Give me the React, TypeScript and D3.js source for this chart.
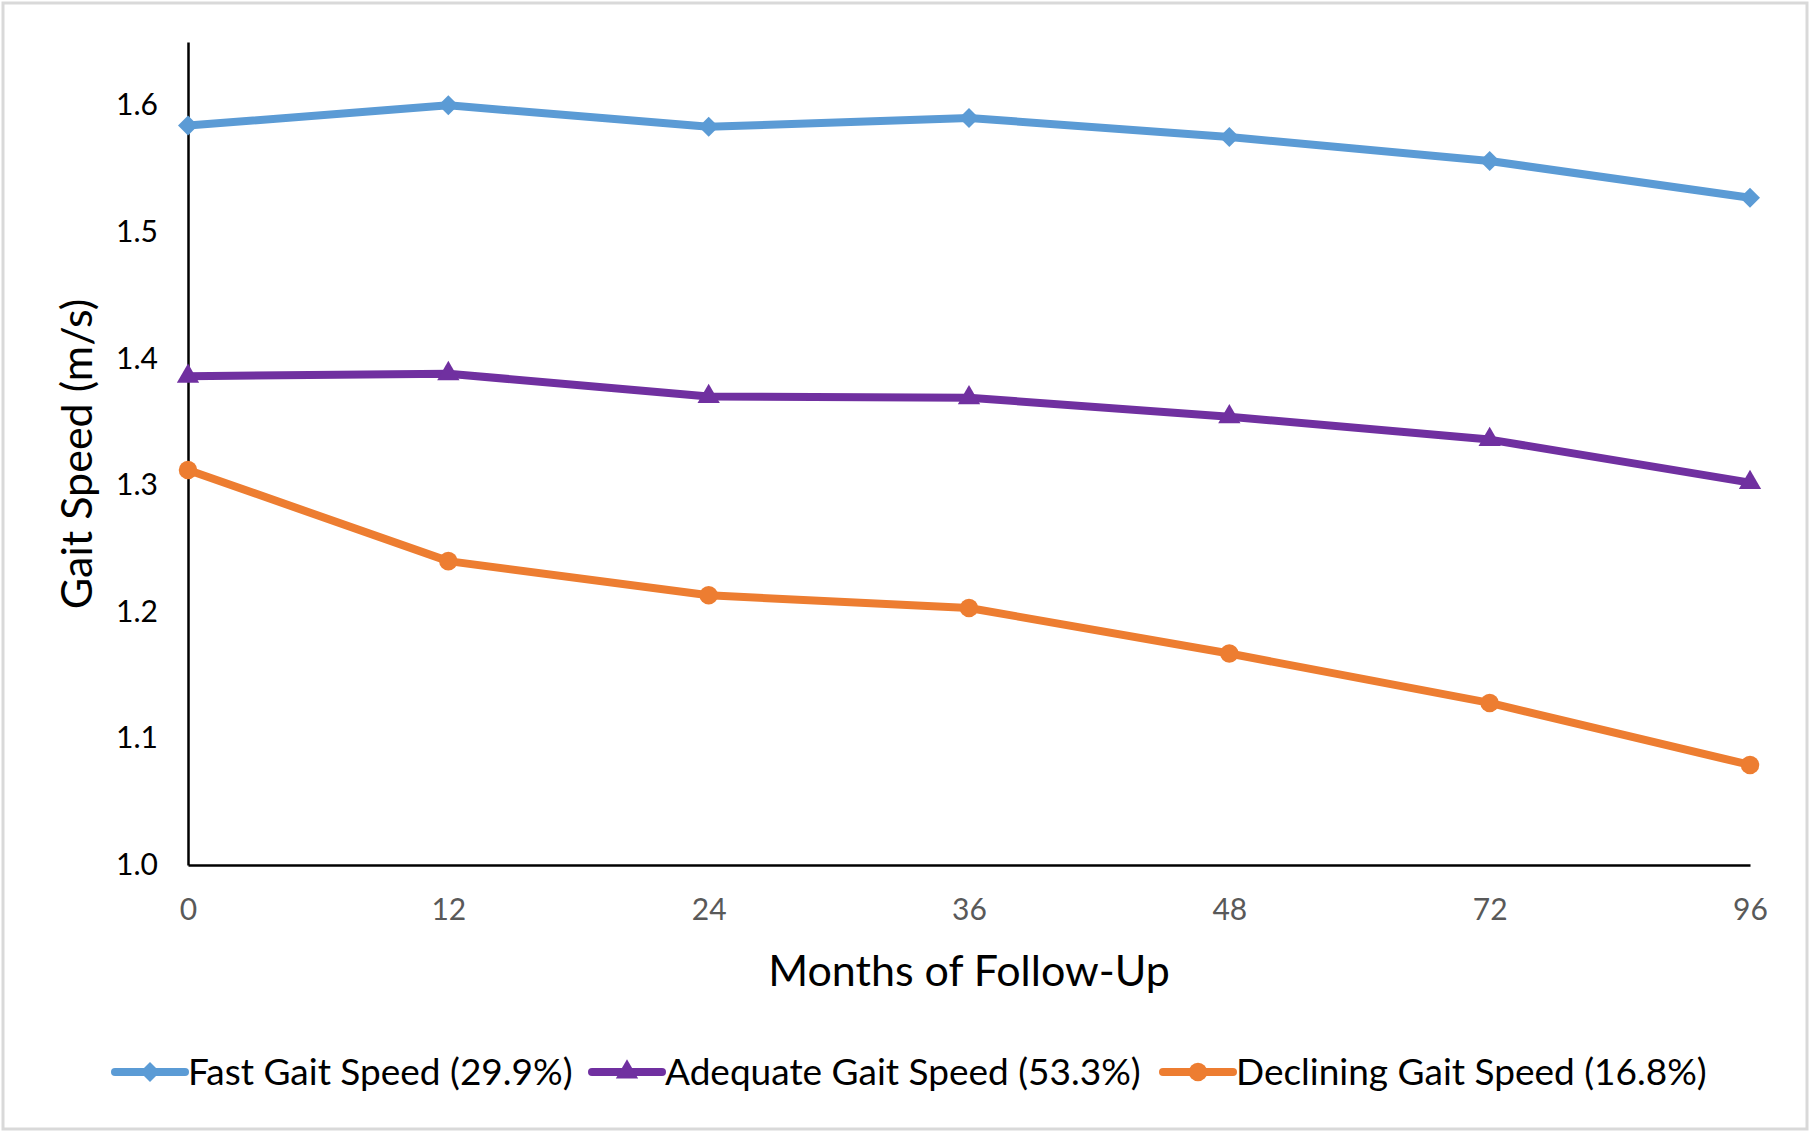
import { useRef, useEffect } from "react";
import {
  select,
  scalePoint,
  scaleLinear,
  axisBottom,
  axisLeft,
  line,
  symbol,
  symbolSquare,
  symbolTriangle,
  symbolCircle,
} from "d3";

const months = ["0", "12", "24", "36", "48", "72", "96"];
const yTicks = [1.0, 1.1, 1.2, 1.3, 1.4, 1.5, 1.6];

const fastValues = [1.584, 1.6, 1.583, 1.59, 1.575, 1.556, 1.527];
const adequateValues = [1.386, 1.388, 1.37, 1.369, 1.354, 1.336, 1.302];
const decliningValues = [1.312, 1.24, 1.213, 1.203, 1.167, 1.128, 1.079];

const seriesNames = [
  "Fast Gait Speed (29.9%)",
  "Adequate Gait Speed (53.3%)",
  "Declining Gait Speed (16.8%)",
];
const seriesColors = ["#5B9BD5", "#7030A0", "#ED7D31"];

const W = 1810;
const H = 1132;
const FONT = "Lato, 'Open Sans', sans-serif";

type Shape = "diamond" | "triangle" | "circle";

function markerPath(shape: Shape) {
  if (shape === "diamond") return symbol(symbolSquare, 200)() as string;
  if (shape === "triangle") return symbol(symbolTriangle, 215)() as string;
  return symbol(symbolCircle, 270)() as string;
}

export default function App() {
  const svgRef = useRef<SVGSVGElement>(null);

  useEffect(() => {
    const svg = select(svgRef.current);
    svg.selectAll("*").remove();

    const margin = { top: 42, right: 60, bottom: 267, left: 188 };
    const plotW = W - margin.left - margin.right;
    const plotH = H - margin.top - margin.bottom;

    svg
      .append("rect")
      .attr("x", 3)
      .attr("y", 3)
      .attr("width", W - 6)
      .attr("height", H - 6)
      .attr("fill", "#fff")
      .attr("stroke", "#d9d9d9")
      .attr("stroke-width", 3);

    const g = svg
      .append("g")
      .attr("transform", `translate(${margin.left},${margin.top})`);

    const x = scalePoint<string>().domain(months).range([0, plotW]).padding(0);
    const y = scaleLinear().domain([1.0, 1.65]).range([plotH, 0]);

    g.append("g")
      .call(
        axisLeft(y)
          .tickValues(yTicks)
          .tickSize(0)
          .tickPadding(30)
          .tickFormat((d) => (d as number).toFixed(1)),
      )
      .call((a) => a.select(".domain").attr("stroke", "#000").attr("stroke-width", 2.5))
      .call((a) =>
        a
          .selectAll(".tick text")
          .attr("fill", "#000")
          .attr("font-size", 30)
          .attr("font-family", FONT),
      );

    g.append("g")
      .attr("transform", `translate(0,${plotH})`)
      .call(axisBottom(x).tickSize(0).tickPadding(34))
      .call((a) => a.select(".domain").attr("stroke", "#000").attr("stroke-width", 2.5))
      .call((a) =>
        a
          .selectAll(".tick text")
          .attr("fill", "#595959")
          .attr("font-size", 30)
          .attr("font-family", FONT),
      );

    g.append("text")
      .attr("x", plotW / 2)
      .attr("y", plotH + 121)
      .attr("text-anchor", "middle")
      .attr("font-size", 43)
      .attr("font-family", FONT)
      .attr("fill", "#000")
      .text("Months of Follow-Up");

    g.append("text")
      .attr("transform", `translate(${92 - margin.left},${454 - margin.top}) rotate(-90)`)
      .attr("text-anchor", "middle")
      .attr("font-size", 43)
      .attr("font-family", FONT)
      .attr("fill", "#000")
      .text("Gait Speed (m/s)");

    const allSeries = [fastValues, adequateValues, decliningValues];
    const shapes: Shape[] = ["diamond", "triangle", "circle"];

    const lineFn = line<number>()
      .x((_, i) => x(months[i]) as number)
      .y((d) => y(d));

    allSeries.forEach((vals, si) => {
      g.append("path")
        .datum(vals)
        .attr("fill", "none")
        .attr("stroke", seriesColors[si])
        .attr("stroke-width", 8)
        .attr("stroke-linejoin", "round")
        .attr("d", lineFn);

      g.selectAll(`.m${si}`)
        .data(vals)
        .enter()
        .append("path")
        .attr("class", `m${si}`)
        .attr("d", markerPath(shapes[si]))
        .attr(
          "transform",
          (d, i) =>
            `translate(${x(months[i])},${y(d)})${shapes[si] === "diamond" ? " rotate(45)" : ""}`,
        )
        .attr("fill", seriesColors[si]);
    });

    // legend
    const legendY = 1072;
    const legendStarts = [115, 592, 1163];
    allSeries.forEach((_, si) => {
      const lx = legendStarts[si];
      const lg = svg.append("g").attr("transform", `translate(${lx},${legendY})`);
      lg.append("line")
        .attr("x1", 0)
        .attr("x2", 70)
        .attr("stroke", seriesColors[si])
        .attr("stroke-width", 8)
        .attr("stroke-linecap", "round");
      lg.append("path")
        .attr("d", markerPath(shapes[si]))
        .attr("transform", `translate(35,0)${shapes[si] === "diamond" ? " rotate(45)" : ""}`)
        .attr("fill", seriesColors[si]);
      lg.append("text")
        .attr("x", 73)
        .attr("y", 0)
        .attr("dy", "0.35em")
        .attr("font-size", 37)
        .attr("font-family", FONT)
        .attr("fill", "#000")
        .text(seriesNames[si]);
    });
  }, []);

  return (
    <svg
      ref={svgRef}
      width={W}
      height={H}
      style={{ position: "absolute", left: 0, top: 0, background: "#fff" }}
    />
  );
}
